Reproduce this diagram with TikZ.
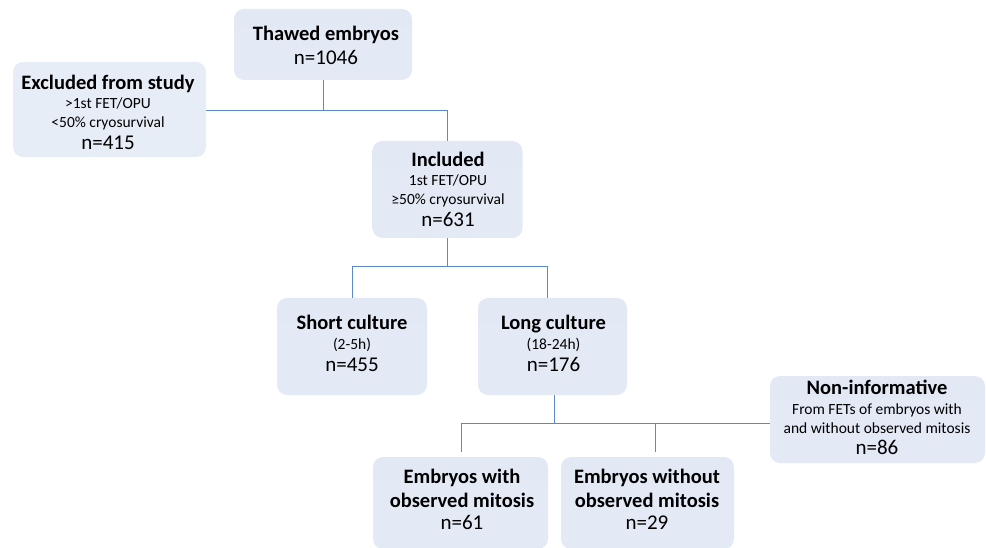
\documentclass[tikz,border=0pt]{standalone}
\usepackage{fontspec}
\setmainfont{Carlito}
\usetikzlibrary{calc}
\definecolor{conncol}{HTML}{5B8AC6}
\definecolor{boxtop}{HTML}{E2E9F5}
\definecolor{boxmid}{HTML}{C6D4EC}
\definecolor{boxbot}{HTML}{E4EAF5}
\definecolor{boxflat}{HTML}{E7EDF6}
\tikzset{
  box/.style={rounded corners=10pt, draw=none, inner sep=0pt,
    top color=boxtop, middle color=boxmid, bottom color=boxbot},
  flatbox/.style={rounded corners=10pt, draw=none, inner sep=0pt, fill=boxflat},
  conn/.style={draw=conncol, line width=1pt},
  ttl/.style={anchor=base, inner sep=0pt, font=\fontsize{20.5}{24}\selectfont\bfseries},
  sub/.style={anchor=base, inner sep=0pt, font=\fontsize{15.5}{18}\selectfont},
  num/.style={anchor=base, inner sep=0pt, font=\fontsize{21}{24}\selectfont},
}
\begin{document}
\begin{tikzpicture}[x=1pt,y=-1pt]
\useasboundingbox (0,0) rectangle (986,548);
\begin{scope}
\clip (0,0) rectangle (986,548);
% boxes
\node[box, minimum width=178pt, minimum height=71pt] (thawed) at (323,44.5) {};
\node[flatbox, minimum width=193pt, minimum height=95pt] (excl) at (109.5,109.5) {};
\node[box, minimum width=150pt, minimum height=97pt] (incl) at (447.5,189.5) {};
\node[box, minimum width=150pt, minimum height=97pt] (short) at (352,346.5) {};
\node[box, minimum width=149pt, minimum height=97pt] (long) at (552.5,346.5) {};
\node[box, minimum width=215pt, minimum height=87pt] (noninf) at (877.5,419.5) {};
\node[box, minimum width=175pt, minimum height=92pt] (with) at (460.5,503) {};
\node[box, minimum width=173pt, minimum height=92pt] (without) at (647.5,503) {};
\end{scope}

% texts
\node[ttl] (t1) at (326,41) {Thawed embryos};
\node[num] (t1n) at (326,65) {n=1046};

\node[ttl] (t2) at (108,90) {Excluded from study};
\node[sub] (t2a) at (108,109) {>1st FET/OPU};
\node[sub] (t2b) at (108,127.5) {<50\% cryosurvival};
\node[num] (t2n) at (108,150) {n=415};

\node[ttl] (t3) at (448,167) {Included};
\node[sub] (t3a) at (448,186) {1st FET/OPU};
\node[sub] (t3b) at (448,204.5) {≥50\% cryosurvival};
\node[num] (t3n) at (448,227) {n=631};

\node[ttl] (t4) at (352,330) {Short culture};
\node[sub] (t4a) at (352,349) {(2-5h)};
\node[num] (t4n) at (352,371) {n=455};

\node[ttl] (t5) at (553.5,330) {Long culture};
\node[sub] (t5a) at (553.5,349) {(18-24h)};
\node[num] (t5n) at (553.5,371) {n=176};

\node[ttl] (t6) at (877,394) {Non-informative};
\node[sub] (t6a) at (877,414) {From FETs of embryos with};
\node[sub] (t6b) at (877,433) {and without observed mitosis};
\node[num] (t6n) at (877,454) {n=86};

\node[ttl] (t7) at (462,483) {Embryos with};
\node[ttl] (t7a) at (462,507) {observed mitosis};
\node[num] (t7n) at (462,529) {n=61};

\node[ttl] (t8) at (647,483) {Embryos without};
\node[ttl] (t8a) at (647,507) {observed mitosis};
\node[num] (t8n) at (647,529) {n=29};

% connectors
\coordinate (j1) at (447.5,111);
\draw[conn] (thawed.south) -- (thawed.south |- j1);
\draw[conn] (excl.east |- j1) -- (j1) -- (incl.north);

\coordinate (j2) at (447.5,267);
\coordinate (lt) at ($(long.north)+(-5.5,0)$);
\draw[conn] (incl.south) -- (j2);
\draw[conn] (short.north) -- (short.north |- j2) -- (lt |- j2) -- (lt);

\coordinate (lb) at ($(long.south)+(1.5,0)$);
\coordinate (j3) at (554,423);
\coordinate (d1) at (461,452);
\coordinate (d2) at (655,452);
\draw[conn] (lb) -- (j3);
\draw[conn] (d1) -- (d1 |- j3) -- (noninf.west |- j3);
\draw[conn] (d2) -- (d2 |- j3);
\end{tikzpicture}
\end{document}
